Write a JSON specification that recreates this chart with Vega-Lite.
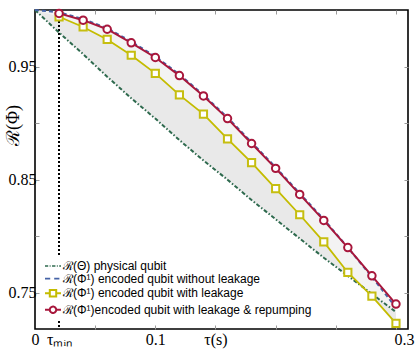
{
  "$schema": "https://vega.github.io/schema/vega-lite/v6.json",
  "width": 373,
  "height": 319,
  "autosize": {"type": "none"},
  "padding": {"left": 35, "top": 10, "right": 7, "bottom": 24},
  "background": "white",
  "config": {
    "view": {"stroke": "black", "strokeWidth": 1.6},
    "axis": {"domain": false, "grid": false, "labelFont": "Liberation Serif", "labelFontSize": 16, "labelColor": "black", "tickColor": "#9a9a9a", "tickSize": -4, "tickWidth": 1, "labelOverlap": false, "labelFlush": false}
  },
  "data": {"values": [
    {"t": 0, "g": 1.0, "b": 1.0, "ya": 1.0, "y": null, "r": null},
    {"t": 0.02, "g": 0.980, "b": 0.998, "ya": 0.994, "y": 0.994, "r": 0.997},
    {"t": 0.04, "g": 0.961, "b": 0.992, "ya": 0.985, "y": 0.985, "r": 0.991},
    {"t": 0.06, "g": 0.941, "b": 0.984, "ya": 0.974, "y": 0.974, "r": 0.983},
    {"t": 0.08, "g": 0.922, "b": 0.972, "ya": 0.960, "y": 0.960, "r": 0.971},
    {"t": 0.10, "g": 0.904, "b": 0.959, "ya": 0.944, "y": 0.944, "r": 0.958},
    {"t": 0.12, "g": 0.885, "b": 0.943, "ya": 0.925, "y": 0.925, "r": 0.942},
    {"t": 0.14, "g": 0.867, "b": 0.925, "ya": 0.908, "y": 0.908, "r": 0.924},
    {"t": 0.16, "g": 0.850, "b": 0.905, "ya": 0.886, "y": 0.886, "r": 0.904},
    {"t": 0.18, "g": 0.832, "b": 0.883, "ya": 0.865, "y": 0.865, "r": 0.882},
    {"t": 0.20, "g": 0.815, "b": 0.861, "ya": 0.842, "y": 0.842, "r": 0.860},
    {"t": 0.22, "g": 0.798, "b": 0.838, "ya": 0.819, "y": 0.819, "r": 0.837},
    {"t": 0.24, "g": 0.781, "b": 0.815, "ya": 0.795, "y": 0.795, "r": 0.814},
    {"t": 0.26, "g": 0.765, "b": 0.790, "ya": 0.768, "y": 0.768, "r": 0.790},
    {"t": 0.28, "g": 0.749, "b": 0.764, "ya": 0.747, "y": 0.747, "r": 0.765},
    {"t": 0.30, "g": 0.733, "b": 0.737, "ya": 0.723, "y": 0.723, "r": 0.740}
  ]},
  "layer": [
    {
      "mark": {"type": "area", "color": "#f3f3f3"},
      "encoding": {
        "x": {"field": "t", "type": "quantitative", "scale": {"domain": [0, 0.31], "nice": false, "zero": false},
          "axis": {"orient": "bottom", "title": null, "values": [0, 0.02, 0.05, 0.1, 0.15, 0.2, 0.25, 0.3],
            "labelExpr": "datum.value == 0 ? '0' : datum.value == 0.02 ? 'τₘᵢₙ' : datum.value == 0.1 ? '0.1' : datum.value == 0.15 ? 'τ(s)' : datum.value == 0.3 ? '0.3' : ''",
            "tickOpacity": {"condition": {"test": "datum.value < 0.04", "value": 0}, "value": 1},
            "labelOffset": {"condition": {"test": "datum.value > 0.29", "value": 8}, "value": 0},
            "labelPadding": 6}},
        "y": {"field": "g", "type": "quantitative", "scale": {"domain": [0.718, 1.0], "nice": false, "zero": false},
          "axis": {"orient": "left", "values": [0.75, 0.8, 0.85, 0.9, 0.95],
            "labelExpr": "(datum.value == 0.75 || datum.value == 0.85 || datum.value == 0.95) ? format(datum.value, '.2f') : ''",
            "labelPadding": 3,
            "title": "ℛ(Φ)", "titleFont": "Liberation Serif", "titleFontSize": 18, "titleFontWeight": "normal", "titleColor": "black",
            "titleX": -22, "titleY": 115, "titleAlign": "center", "titleBaseline": "middle"}},
        "y2": {"field": "b"}
      }
    },
    {
      "mark": {"type": "area", "color": "#e9e9e9"},
      "encoding": {
        "x": {"field": "t", "type": "quantitative", "axis": {"orient": "top", "title": null, "labels": false, "values": [0.05, 0.1, 0.15, 0.2, 0.25, 0.3]}},
        "y": {"field": "g", "type": "quantitative", "axis": {"orient": "right", "title": null, "labels": false, "values": [0.75, 0.8, 0.85, 0.9, 0.95]}},
        "y2": {"field": "ya"}
      }
    },
    {
      "mark": {"type": "rule", "color": "black", "strokeWidth": 1.6, "strokeDash": [1.6, 2.4]},
      "encoding": {
        "x": {"datum": 0.02, "type": "quantitative", "axis": null},
        "y": {"datum": 0.997, "type": "quantitative", "axis": null},
        "y2": {"datum": 0.718}
      }
    },
    {
      "mark": {"type": "line", "strokeWidth": 2, "strokeDash": [4, 2, 1.5, 2]},
      "encoding": {
        "x": {"field": "t", "type": "quantitative", "axis": null},
        "y": {"field": "g", "type": "quantitative", "axis": null},
        "color": {"datum": "g", "type": "nominal",
          "scale": {"domain": ["g", "b", "y", "r"], "range": ["#2e6a4e", "#4563a6", "#c4bc00", "#a8173c"]},
          "legend": {
            "orient": "none", "legendX": 8, "legendY": 246, "title": null,
            "fillColor": "white", "padding": 4, "rowPadding": 0.6,
            "labelFont": "Liberation Sans", "labelFontSize": 12, "labelColor": "black", "labelOffset": 4, "labelLimit": 400,
            "symbolSize": 256, "symbolStrokeWidth": 1.8,
            "labelExpr": "datum.value === 'g' ? 'ℛ(Θ) physical qubit' : datum.value === 'b' ? 'ℛ(Φ¹) encoded qubit without leakage' : datum.value === 'y' ? 'ℛ(Φ¹) encoded qubit with leakage' : 'ℛ(Φ¹)encoded qubit with leakage & repumping'",
            "encode": {"symbols": {"update": {
              "shape": {"signal": "datum.value === 'g' ? 'M-1,0H-0.6M-0.42,0H-0.3M-0.12,0H0.3M0.48,0H0.6M0.78,0H1' : datum.value === 'b' ? 'M-1,0H-0.35M0.15,0H0.8' : datum.value === 'y' ? 'M-1,0H-0.4M0.4,0H1M-0.4,-0.4H0.4V0.4H-0.4Z' : 'M-1,0H-0.4M0.4,0H1M0.4,0A0.4,0.4,0,1,1,-0.4,0A0.4,0.4,0,1,1,0.4,0Z'"},
              "fill": {"value": "white"},
              "strokeDash": {"value": [1, 0]},
              "strokeWidth": {"signal": "(datum.value === 'g' || datum.value === 'b') ? 1.6 : 2"}
            }}}
          }}
      }
    },
    {
      "mark": {"type": "line", "strokeWidth": 2, "strokeDash": [4, 3]},
      "encoding": {
        "x": {"field": "t", "type": "quantitative", "axis": null},
        "y": {"field": "b", "type": "quantitative", "axis": null},
        "color": {"datum": "b", "type": "nominal"}
      }
    },
    {
      "mark": {"type": "line", "strokeWidth": 1.8},
      "encoding": {
        "x": {"field": "t", "type": "quantitative", "axis": null},
        "y": {"field": "y", "type": "quantitative", "axis": null},
        "color": {"datum": "y", "type": "nominal"}
      }
    },
    {
      "mark": {"type": "point", "shape": "square", "filled": true, "fill": "white", "stroke": "#c6be10", "strokeWidth": 2, "size": 52, "opacity": 1},
      "encoding": {
        "x": {"field": "t", "type": "quantitative", "axis": null},
        "y": {"field": "y", "type": "quantitative", "axis": null}
      }
    },
    {
      "mark": {"type": "line", "strokeWidth": 2},
      "encoding": {
        "x": {"field": "t", "type": "quantitative", "axis": null},
        "y": {"field": "r", "type": "quantitative", "axis": null},
        "color": {"datum": "r", "type": "nominal"}
      }
    },
    {
      "mark": {"type": "point", "shape": "circle", "filled": true, "fill": "white", "stroke": "#a8173c", "strokeWidth": 2, "size": 56, "opacity": 1},
      "encoding": {
        "x": {"field": "t", "type": "quantitative", "axis": null},
        "y": {"field": "r", "type": "quantitative", "axis": null}
      }
    }
  ],
  "resolve": {"axis": {"x": "independent", "y": "independent"}}
}
